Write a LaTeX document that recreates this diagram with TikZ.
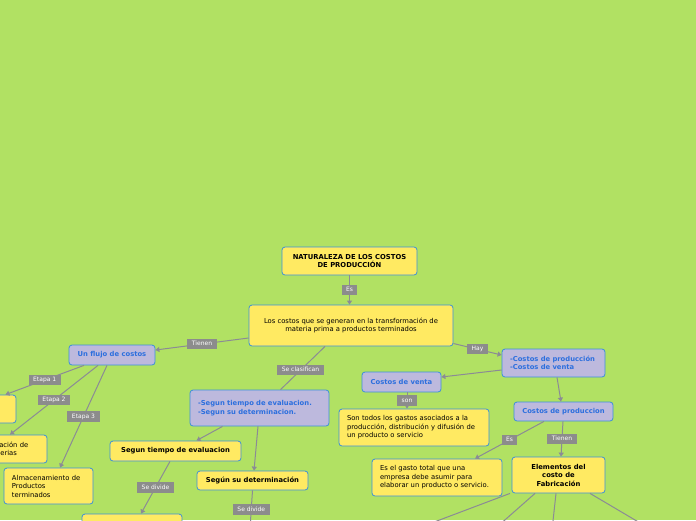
\documentclass[tikz,border=0pt]{standalone}
\usepackage{fontspec}
\setmainfont{DejaVu Sans}
\usetikzlibrary{arrows.meta,calc,positioning}
\definecolor{bg}{HTML}{B1E163}
\definecolor{ynode}{HTML}{FFEA62}
\definecolor{edge}{HTML}{3C8FDA}
\definecolor{lav}{HTML}{BDB9DD}
\definecolor{btext}{HTML}{2C6FDD}
\definecolor{taggray}{HTML}{8C8C8C}
\definecolor{wirec}{HTML}{8B8B95}

\tikzset{
 box/.style={draw=edge,line width=0.8pt,rounded corners=3pt,inner sep=3pt,
   font=\fontsize{6.8}{8.5}\selectfont},
 ybox/.style={box,fill=ynode,text=black},
 ybold/.style={ybox,font=\fontsize{6.8}{8.5}\selectfont\bfseries},
 lbox/.style={box,fill=lav,text=btext,font=\fontsize{6.8}{8.5}\selectfont\bfseries},
 lefttext/.style={text width=#1,align=left,inner xsep=8pt},
 tag/.style={fill=taggray,text=white,inner xsep=4.5pt,inner ysep=2.2pt,
   text height=4.6pt,text depth=1.4pt,font=\fontsize{6}{7}\selectfont},
 wire/.style={draw=wirec,line width=1pt},
 arr/.style={wire,-{Triangle[width=5pt,length=4pt]}}
}

\begin{document}
\begin{tikzpicture}[x=1pt,y=-1pt]
 \fill[bg] (0,0) rectangle (696,520);
 \useasboundingbox (0,0) rectangle (696,520);

 % centre
 \node[ybold,minimum width=135,minimum height=28,align=center] (top) at (349.5,261)
   {NATURALEZA DE LOS COSTOS\\DE PRODUCCIÓN};
 \node[ybox,minimum width=204,minimum height=41,align=center] (costos) at (351,325.5)
   {Los costos que se generan en la transformación de\\materia prima a productos terminados};

 % left branch
 \node[lbox,minimum width=86,minimum height=20] (flujo) at (112,355) {Un flujo de costos};
 \node[ybox,minimum width=66,minimum height=28] (etapaA) at (-17,409) {};
 \node[ybox,lefttext=64,minimum height=28] (etapaB) at (7,449)
   {Clasificación de\\las materias};
 \node[ybox,lefttext=73,minimum height=36] (alm) at (48.5,486)
   {Almacenamiento de\\Productos\\terminados};

 % middle branch
 \node[lbox,lefttext=123,minimum height=36] (seg) at (259.5,408)
   {-Segun tiempo de evaluacion.\\-Segun su determinacion.};
 \node[ybold,minimum width=131,minimum height=20] (tiempo) at (175.5,451)
   {Segun tiempo de evaluacion};
 \node[ybold,minimum width=111,minimum height=19] (determ) at (252.5,480.5)
   {Según su determinación};
 \node[ybox,minimum width=100,minimum height=32] (tbase) at (132,530) {};
 \node[ybox,minimum width=100,minimum height=32] (dbase) at (250,545) {};

 % right branch
 \node[lbox,lefttext=87,minimum height=28] (hay) at (553.5,363)
   {-Costos de producción\\-Costos de venta};
 \node[lbox,minimum width=79,minimum height=20] (cventa) at (401.5,382) {Costos de venta};
 \node[ybox,lefttext=134,minimum height=37] (gastos) at (414,427.5)
   {Son todos los gastos asociados a la\\producción, distribución y difusión de\\un producto o servicio};
 \node[lbox,minimum width=99,minimum height=19] (cprod) at (563.5,411.5) {Costos de produccion};
 \node[ybox,lefttext=114,minimum height=37] (total) at (437,477.5)
   {Es el gasto total que una\\empresa debe asumir para\\elaborar un producto o servicio.};
 \node[ybold,minimum width=93,minimum height=36,align=center] (elem) at (558.5,475)
   {Elementos del\\costo de\\Fabricación};
 \coordinate (e1) at (413,530);
 \coordinate (e2) at (493.5,530);
 \coordinate (e3) at (552,530);
 \coordinate (e4) at (652,530);
 \coordinate (sonA) at ($(cventa.south)+(5.5,0)$);
 \coordinate (sonB) at (sonA|-gastos.north);

 % connectors
 \draw[arr] (top.south) -- node[tag]{Es} (top.south|-costos.north);
 \draw[arr] ($(costos.west)+(0,12.5)$) -- node[tag]{Tienen} ($(flujo.east)+(0,-5)$);
 \draw[wire] ($(costos.south)+(-26,0)$) -- node[tag,pos=.55]{Se clasifican} ($(seg.north)+(21,0)$);
 \draw[arr] ($(costos.east)+(0,18)$) -- node[tag]{Hay} ($(hay.west)+(0,-8)$);

 \draw[arr] ($(flujo.south)+(-28,0)$) -- node[tag]{Etapa 1} ($(etapaA.north east)+(-11,0)$);
 \draw[arr] ($(flujo.south)+(-14,0)$) -- node[tag]{Etapa 2} ($(etapaB.north)+(3,0)$);
 \draw[arr] ($(flujo.south)+(-5,0)$) -- node[tag]{Etapa 3} ($(alm.north)+(11.5,0)$);

 \draw[arr] ($(seg.south)+(-37,0)$) -- ($(tiempo.north)+(21,0)$);
 \draw[arr] ($(seg.south)+(-1.5,0)$) -- ($(determ.north)+(1.5,0)$);
 \draw[arr] ($(tiempo.south)+(-5.5,0)$) -- node[tag]{Se divide} ($(tbase.north)+(9,0)$);
 \draw[arr] (determ.south) -- node[tag]{Se divide} (dbase.north);

 \draw[arr] ($(hay.west)+(0,7)$) -- ($(cventa.east)+(0,-5)$);
 \draw[arr] (sonA) -- node[tag]{son} (sonB);
 \draw[arr] ($(hay.south)+(3.5,0)$) -- ($(cprod.north)+(-2.5,0)$);
 \draw[arr] ($(cprod.south)+(-19.5,0)$) -- node[tag]{Es} ($(total.north)+(38,0)$);
 \draw[arr] ($(cprod.south)+(-0.5,0)$) -- node[tag]{Tienen} ($(elem.north)+(2.5,0)$);

 \draw[wire] ($(elem.south)+(-48.5,0)$) -- (e1);
 \draw[wire] ($(elem.south)+(-23.5,0)$) -- (e2);
 \draw[wire] ($(elem.south)+(-2.5,0)$) -- (e3);
 \draw[wire] ($(elem.south)+(31.5,0)$) -- (e4);
\end{tikzpicture}
\end{document}
